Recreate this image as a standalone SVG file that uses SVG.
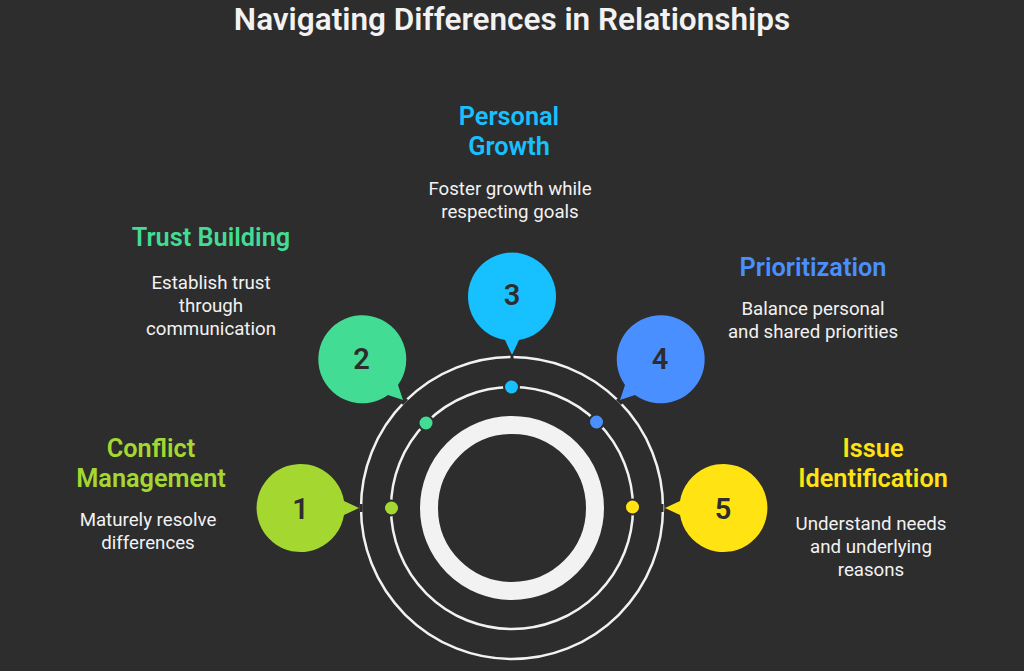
<svg xmlns="http://www.w3.org/2000/svg" width="1024" height="671" viewBox="0 0 1024 671">
<style>
text{font-family:Roboto,"Liberation Sans",sans-serif;text-anchor:middle}
.t{font-size:25.3px;font-weight:600}
.d{font-size:18.7px;fill:#f2f2f2}
.n{font-size:29px;font-weight:600;fill:#2d2d2d}
.r{fill:none;stroke:#f2f2f2;stroke-width:2.5}
</style>
<rect width="1024" height="671" fill="#2d2d2d"/>
<text x="512" y="30" fill="#f2f2f2" style="font-size:31.5px;font-weight:600">Navigating Differences in Relationships</text>
<g id="connectors">
<circle class="r" cx="512" cy="508" r="151"/>
<circle class="r" cx="512" cy="508" r="121"/>
<circle cx="512" cy="508" r="83" fill="none" stroke="#f2f2f2" stroke-width="18"/>
</g>
<g id="node1">
<path d="M359 508L344 501A44 44 0 1 0 344 515Z" fill="#a4d831"/>
<path d="M361 504V512" stroke="#2d2d2d" stroke-width="3"/>
<circle cx="391" cy="508" r="8.5" fill="#2d2d2d"/><circle cx="391.500" cy="508" r="6.500" fill="#a4d831"/>
<text class="n" x="300.500" y="518.500">1</text>
<text class="t" x="151" y="456.500" fill="#a4d831">Conflict</text>
<text class="t" x="151" y="486.500" fill="#a4d831">Management</text>
<text class="d" x="148" y="526">Maturely resolve</text>
<text class="d" x="148" y="549">differences</text>
</g>
<g id="node2">
<path d="M403 400L388 395A44 44 0 1 1 398 385Z" fill="#42dc94"/>
<path d="M402 404L407 399" stroke="#2d2d2d" stroke-width="3"/>
<circle cx="426" cy="423" r="8.5" fill="#2d2d2d"/><circle cx="426" cy="423" r="6.5" fill="#42dc94"/>
<text class="n" x="361.500" y="368.500">2</text>
<text class="t" x="211" y="245.500" fill="#42dc94">Trust Building</text>
<text class="d" x="211" y="289">Establish trust</text>
<text class="d" x="211" y="312">through</text>
<text class="d" x="211" y="335">communication</text>
</g>
<g id="node3">
<path d="M512 355L505 340A44 44 0 1 1 519 340Z" fill="#17c0ff"/>
<path d="M512 354V360" stroke="#2d2d2d" stroke-width="3"/>
<circle cx="511.500" cy="387" r="8.5" fill="#2d2d2d"/><circle cx="511.500" cy="387" r="6.5" fill="#17c0ff"/>
<text class="n" x="512" y="305">3</text>
<text class="t" x="509" y="125" fill="#17c0ff">Personal</text>
<text class="t" x="509" y="155" fill="#17c0ff">Growth</text>
<text class="d" x="510" y="195">Foster growth while</text>
<text class="d" x="510" y="218">respecting goals</text>
</g>
<g id="node4">
<path d="M620 400L625 385A44 44 0 1 1 635 395Z" fill="#4a8fff"/>
<path d="M617 399L622 404" stroke="#2d2d2d" stroke-width="3"/>
<circle cx="596.500" cy="422" r="8.5" fill="#2d2d2d"/><circle cx="596.500" cy="422" r="6.5" fill="#4a8fff"/>
<text class="n" x="660" y="368.500">4</text>
<text class="t" x="813" y="275.500" fill="#4a8fff">Prioritization</text>
<text class="d" x="813" y="315">Balance personal</text>
<text class="d" x="813" y="338">and shared priorities</text>
</g>
<g id="node5">
<path d="M665 508L680 501A44 44 0 1 1 680 515Z" fill="#ffe312"/>
<path d="M662 504V512" stroke="#2d2d2d" stroke-width="3"/>
<circle cx="632.500" cy="507" r="8.5" fill="#2d2d2d"/><circle cx="632.500" cy="507" r="6.5" fill="#ffe312"/>
<text class="n" x="723" y="518.500">5</text>
<text class="t" x="873" y="456.500" fill="#ffe312">Issue</text>
<text class="t" x="873" y="486.500" fill="#ffe312">Identification</text>
<text class="d" x="871" y="530">Understand needs</text>
<text class="d" x="871" y="553">and underlying</text>
<text class="d" x="871" y="576">reasons</text>
</g>
</svg>
